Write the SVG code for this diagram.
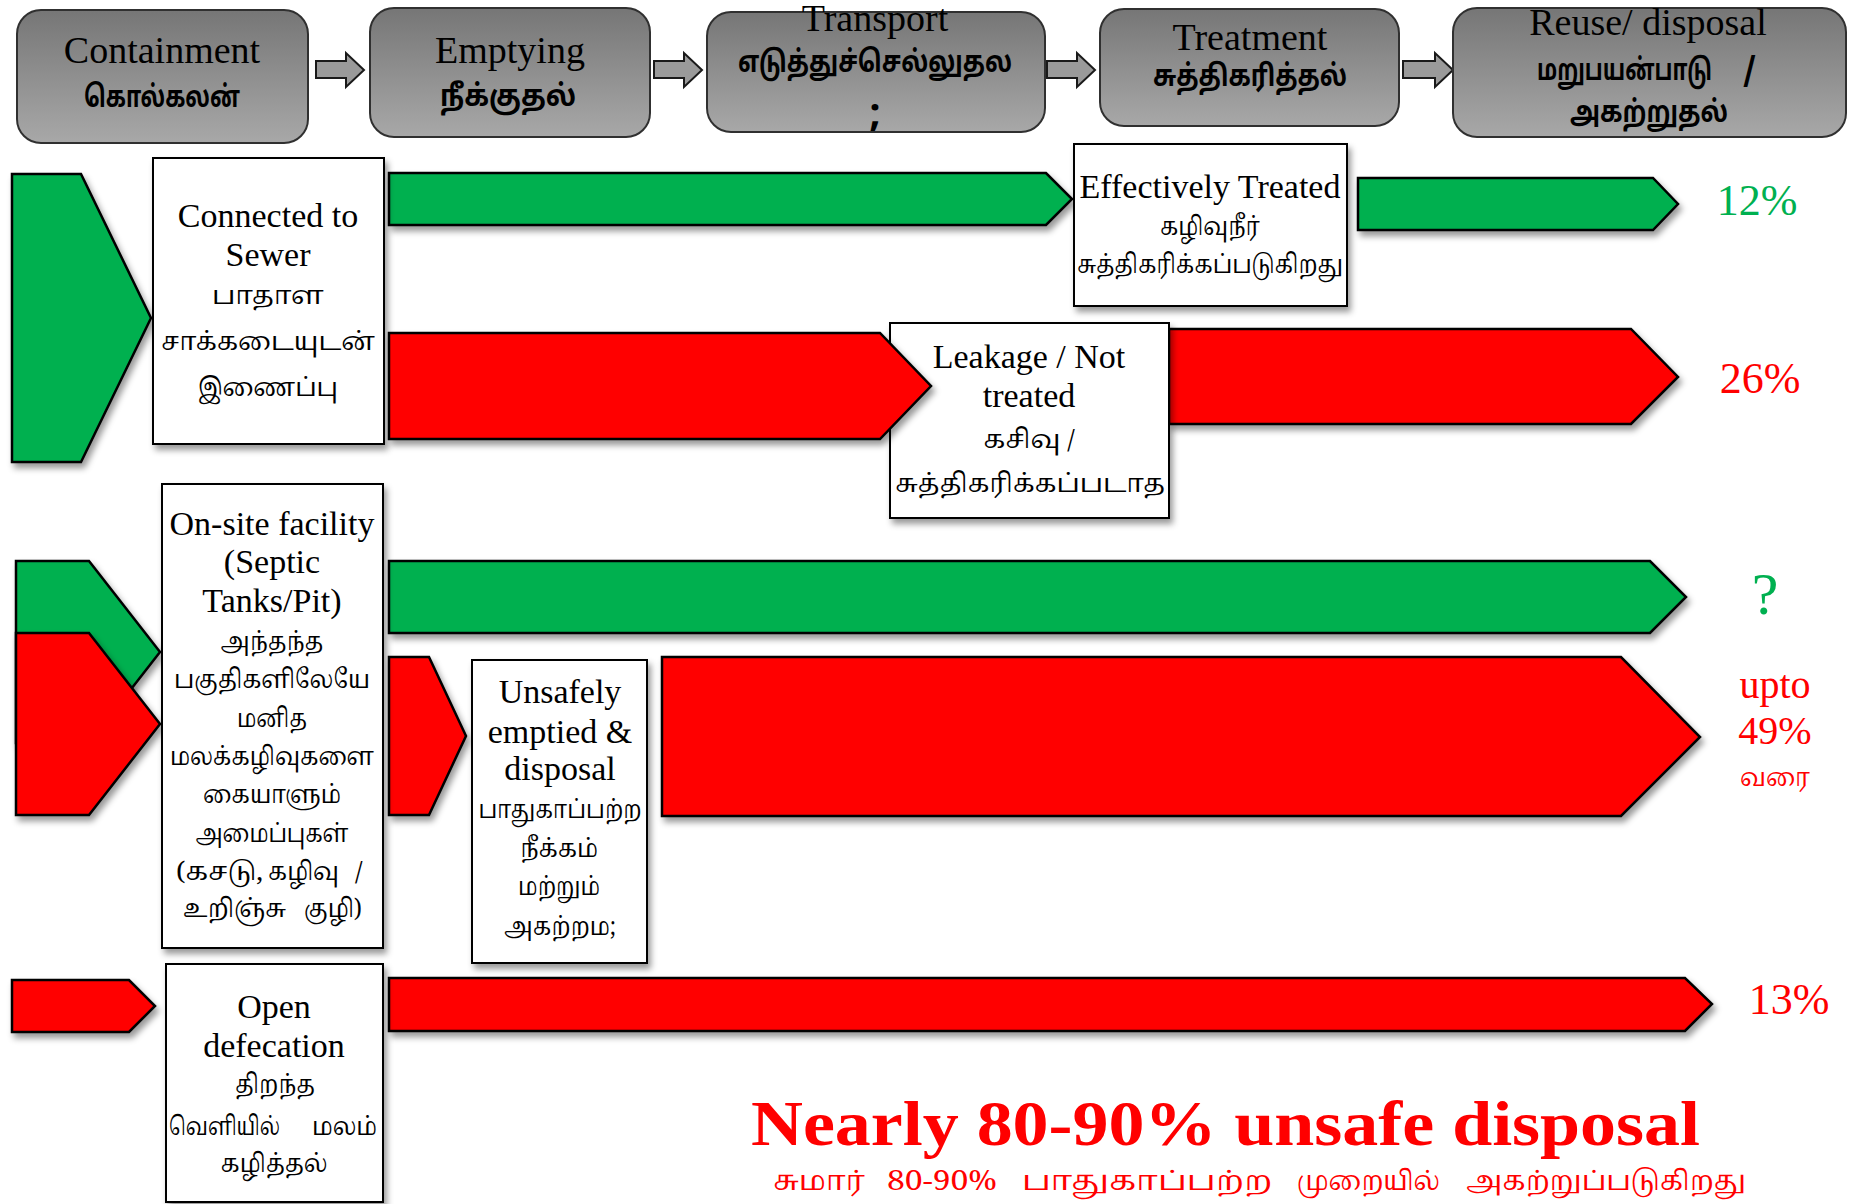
<svg xmlns="http://www.w3.org/2000/svg" width="1849" height="1204" viewBox="0 0 1849 1204">
<defs>
<linearGradient id="hdr" x1="0" y1="0" x2="0" y2="1">
<stop offset="0" stop-color="#767676"/>
<stop offset="1" stop-color="#a8a8a8"/>
</linearGradient>
<filter id="sh" x="-10%" y="-10%" width="130%" height="140%">
<feDropShadow dx="3" dy="5" stdDeviation="3" flood-color="#000" flood-opacity="0.4"/>
</filter>
<style>
.hbox{fill:url(#hdr);stroke:#303030;stroke-width:2}
.harr{fill:#9a9a9a;stroke:#1a1a1a;stroke-width:2;stroke-linejoin:miter}
.g{fill:#00B050;stroke:#000;stroke-width:2.5;filter:url(#sh)}
.r{fill:#FF0000;stroke:#000;stroke-width:2.5;filter:url(#sh)}
.wbox{fill:#fff;stroke:#000;stroke-width:2;filter:url(#sh)}
.en{font-family:"Liberation Serif","DejaVu Serif",serif;font-size:34px;fill:#000;text-anchor:middle}
.he{font-family:"Liberation Serif","DejaVu Serif",serif;font-size:38px;fill:#000;text-anchor:middle}
.ta{font-family:"Noto Serif Tamil","Noto Sans Tamil","Lohit Tamil","Latha","Liberation Serif",serif;font-size:26px;fill:#000;text-anchor:middle}
.ht{font-family:"Noto Sans Tamil","Lohit Tamil","Latha","Liberation Sans",sans-serif;font-size:30px;font-weight:bold;fill:#000;text-anchor:middle}
.pg{font-family:"Liberation Serif","DejaVu Serif",serif;font-size:44px;fill:#00B050;text-anchor:middle}
.pr{font-family:"Liberation Serif","DejaVu Serif",serif;font-size:44px;fill:#FF0000;text-anchor:middle}
.rt{fill:#FF0000}
.ts{text-anchor:start}
</style>
</defs>
<rect width="1849" height="1204" fill="#fff"/>

<g id="connectors">
<polygon class="harr" points="316,61 346,61 346,53 364,70 346,87 346,78 316,78"/>
<polygon class="harr" points="654,61 684,61 684,53 702,70 684,87 684,78 654,78"/>
<polygon class="harr" points="1047,61 1077,61 1077,53 1095,70 1077,87 1077,78 1047,78"/>
<polygon class="harr" points="1403,61 1435,61 1435,53 1453,70 1435,87 1435,78 1403,78"/>
<polygon id="flow-sewer-green" class="g" points="389,173 1046,173 1072,199 1046,225 389,225"/>
<polygon id="flow-treated-green" class="g" points="1358,178 1653,178 1678,204 1653,230 1358,230"/>
<polygon id="flow-leak-red2" class="r" points="1169,329 1631,329 1678,377 1631,424 1169,424"/>
<polygon id="flow-onsite-green" class="g" points="389,561 1650,561 1686,597 1650,633 389,633"/>
<polygon id="flow-onsite-red" class="r" points="389,657 429,657 466,736 429,815 389,815"/>
<polygon id="flow-unsafe-red" class="r" points="662,657 1621,657 1700,737 1621,816 662,816"/>
<polygon id="flow-od-in" class="r" points="12,980 129,980 155,1006 129,1032 12,1032"/>
<polygon id="flow-od-red" class="r" points="389,978 1685,978 1712,1004 1685,1031 389,1031"/>
</g>

<g id="h-containment">
<rect class="hbox" x="17" y="10" width="291" height="133" rx="24"/>
<text class="he" x="162" y="63">Containment</text>
<text class="ht" x="162" y="107" textLength="156" lengthAdjust="spacingAndGlyphs">கொல்கலன்</text>
</g>
<g id="h-emptying">
<rect class="hbox" x="370" y="8" width="280" height="129" rx="24"/>
<text class="he" x="510" y="63">Emptying</text>
<text class="ht" x="508" y="106" textLength="136" lengthAdjust="spacingAndGlyphs">நீக்குதல்</text>
</g>
<g id="h-transport">
<rect class="hbox" x="707" y="12" width="338" height="120" rx="24"/>
<text class="he" x="875" y="31">Transport</text>
<text class="ht" x="875" y="72" textLength="274" lengthAdjust="spacingAndGlyphs">எடுத்துச்செல்லுதல</text>
<text class="ht" x="875" y="126" style="font-size:40px">;</text>
</g>
<g id="h-treatment">
<rect class="hbox" x="1100" y="9" width="299" height="117" rx="24"/>
<text class="he" x="1250" y="50">Treatment</text>
<text class="ht" x="1250" y="86" textLength="194" lengthAdjust="spacingAndGlyphs">சுத்திகரித்தல்</text>
</g>
<g id="h-reuse">
<rect class="hbox" x="1453" y="8" width="393" height="129" rx="24"/>
<text class="he" x="1648" y="35">Reuse/ disposal</text>
<text class="ht ts" x="1537" y="80"><tspan textLength="175" lengthAdjust="spacingAndGlyphs">மறுபயன்பாடு</tspan><tspan x="1743">/</tspan></text>
<text class="ht" x="1649" y="122" textLength="158" lengthAdjust="spacingAndGlyphs">அகற்றுதல்</text>
</g>

<g id="sewer-in">
<polygon class="g" points="12,174 81,174 151,318 81,462 12,462"/>
</g>
<g id="sewer">
<rect class="wbox" x="153" y="158" width="231" height="286"/>
<text class="en" x="268" y="227">Connected to</text>
<text class="en" x="268" y="266">Sewer</text>
<text class="ta" x="268" y="304">பாதாள</text>
<text class="ta" x="268" y="350" textLength="214" lengthAdjust="spacingAndGlyphs">சாக்கடையுடன்</text>
<text class="ta" x="268" y="396" textLength="140" lengthAdjust="spacingAndGlyphs">இணைப்பு</text>
</g>
<g id="treated">
<rect class="wbox" x="1074" y="144" width="273" height="162"/>
<text class="en" x="1210" y="198">Effectively Treated</text>
<text class="ta" x="1210" y="235" textLength="100" lengthAdjust="spacingAndGlyphs">கழிவுநீர்</text>
<text class="ta" x="1210" y="273" textLength="266" lengthAdjust="spacingAndGlyphs">சுத்திகரிக்கப்படுகிறது</text>
</g>
<g id="pct-12"><text class="pg" x="1757" y="215">12%</text></g>

<g id="leakage">
<rect class="wbox" x="890" y="323" width="279" height="195"/>
<text class="en" x="1029" y="368">Leakage / Not</text>
<text class="en" x="1029" y="407">treated</text>
<text class="ta" x="1029" y="448">கசிவு /</text>
<text class="ta" x="1030" y="492" textLength="270" lengthAdjust="spacingAndGlyphs">சுத்திகரிக்கப்படாத</text>
</g>
<g id="flow-leak-red1">
<polygon class="r" points="389,333 880,333 931,386 880,439 389,439"/>
</g>
<g id="pct-26"><text class="pr" x="1760" y="393">26%</text></g>

<g id="onsite-in">
<polygon class="g" points="16,561 89,561 160,652 89,743 16,743"/>
<polygon class="r" points="16,633 89,633 160,724 89,815 16,815"/>
</g>
<g id="onsite">
<rect class="wbox" x="162" y="484" width="221" height="464"/>
<text class="en" x="272" y="535">On-site facility</text>
<text class="en" x="272" y="573">(Septic</text>
<text class="en" x="272" y="612">Tanks/Pit)</text>
<text class="ta" x="272" y="650" textLength="103" lengthAdjust="spacingAndGlyphs">அந்தந்த</text>
<text class="ta" x="272" y="688" textLength="196" lengthAdjust="spacingAndGlyphs">பகுதிகளிலேயே</text>
<text class="ta" x="272" y="727" textLength="70" lengthAdjust="spacingAndGlyphs">மனித</text>
<text class="ta" x="272" y="765" textLength="204" lengthAdjust="spacingAndGlyphs">மலக்கழிவுகளை</text>
<text class="ta" x="272" y="803" textLength="138" lengthAdjust="spacingAndGlyphs">கையாளும்</text>
<text class="ta" x="272" y="842" textLength="153" lengthAdjust="spacingAndGlyphs">அமைப்புகள்</text>
<text class="ta ts" x="176" y="880" textLength="87" lengthAdjust="spacingAndGlyphs">(கசடு,</text>
<text class="ta ts" x="268" y="880" textLength="71" lengthAdjust="spacingAndGlyphs">கழிவு</text>
<text class="ta ts" x="355" y="880">/</text>
<text class="ta ts" x="183" y="917" textLength="103" lengthAdjust="spacingAndGlyphs">உறிஞ்சு</text>
<text class="ta ts" x="304" y="917" textLength="58" lengthAdjust="spacingAndGlyphs">குழி)</text>
</g>
<g id="pct-q"><text class="pg" x="1765" y="614" style="font-size:60px">?</text></g>

<g id="unsafe">
<rect class="wbox" x="472" y="660" width="175" height="303"/>
<text class="en" x="560" y="703">Unsafely</text>
<text class="en" x="560" y="743">emptied &amp;</text>
<text class="en" x="560" y="780">disposal</text>
<text class="ta" x="560" y="818" textLength="163" lengthAdjust="spacingAndGlyphs">பாதுகாப்பற்ற</text>
<text class="ta" x="559" y="857" textLength="78" lengthAdjust="spacingAndGlyphs">நீக்கம்</text>
<text class="ta" x="559" y="895" textLength="82" lengthAdjust="spacingAndGlyphs">மற்றும்</text>
<text class="ta" x="560" y="935" textLength="112" lengthAdjust="spacingAndGlyphs">அகற்றம;</text>
</g>
<g id="pct-49">
<text class="pr" x="1775" y="698" style="font-size:40px">upto</text>
<text class="pr" x="1775" y="744" style="font-size:40px">49%</text>
<text class="ta rt" x="1775" y="786" textLength="70" lengthAdjust="spacingAndGlyphs">வரை</text>
</g>

<g id="opendef">
<rect class="wbox" x="166" y="964" width="217" height="238"/>
<text class="en" x="274" y="1018">Open</text>
<text class="en" x="274" y="1057">defecation</text>
<text class="ta" x="275" y="1093" textLength="80" lengthAdjust="spacingAndGlyphs">திறந்த</text>
<text class="ta ts" x="169" y="1135" textLength="111" lengthAdjust="spacingAndGlyphs">வெளியில்</text>
<text class="ta ts" x="312" y="1135" textLength="65" lengthAdjust="spacingAndGlyphs">மலம்</text>
<text class="ta" x="274" y="1172" textLength="107" lengthAdjust="spacingAndGlyphs">கழித்தல்</text>
</g>
<g id="pct-13"><text class="pr" x="1789" y="1014">13%</text></g>

<g id="summary">
<text x="751" y="1145" textLength="949" lengthAdjust="spacingAndGlyphs" style="font-family:'Liberation Serif','DejaVu Serif',serif;font-size:64px;font-weight:bold;fill:#FF0000">Nearly 80-90% unsafe disposal</text>
<text class="ta ts rt" x="773" y="1190" style="font-size:27px" textLength="92" lengthAdjust="spacingAndGlyphs">சுமார்</text>
<text class="ta ts rt" x="887" y="1190" style="font-size:27px" textLength="110" lengthAdjust="spacingAndGlyphs">80-90%</text>
<text class="ta ts rt" x="1022" y="1190" style="font-size:27px" textLength="250" lengthAdjust="spacingAndGlyphs">பாதுகாப்பற்ற</text>
<text class="ta ts rt" x="1297" y="1190" style="font-size:27px" textLength="143" lengthAdjust="spacingAndGlyphs">முறையில்</text>
<text class="ta ts rt" x="1466" y="1190" style="font-size:27px" textLength="280" lengthAdjust="spacingAndGlyphs">அகற்றுப்படுகிறது</text>
</g>
</svg>
